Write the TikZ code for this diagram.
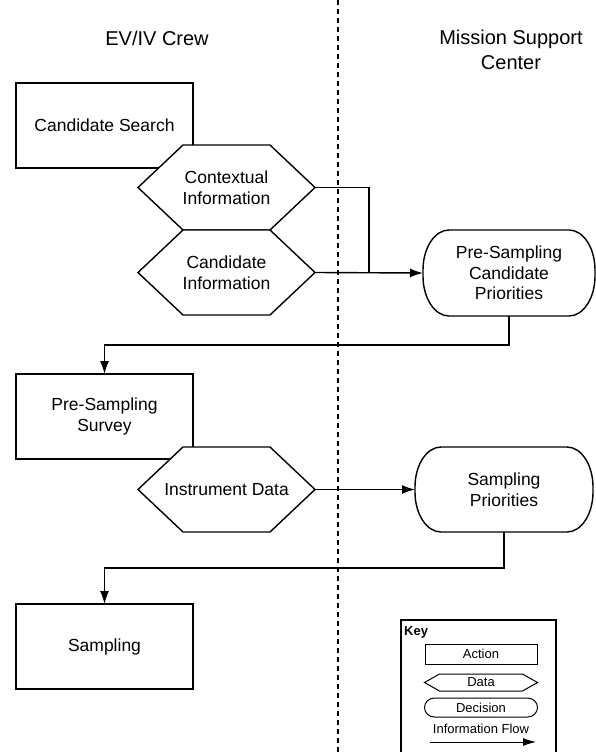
\documentclass[tikz,border=0pt]{standalone}
\usepackage{fontspec}
\setmainfont{Liberation Sans}
\usepackage{tikz}
\usetikzlibrary{positioning,calc}
\usetikzlibrary{arrows.meta}

\makeatletter
% hexagon for data items
\pgfkeys{/pgf/hex inset/.initial=45pt}
\pgfdeclareshape{datahex}{%
  \inheritsavedanchors[from=rectangle]
  \inheritanchorborder[from=rectangle]
  \inheritanchor[from=rectangle]{center}
  \inheritanchor[from=rectangle]{north}
  \inheritanchor[from=rectangle]{south}
  \inheritanchor[from=rectangle]{east}
  \inheritanchor[from=rectangle]{west}
  \inheritanchor[from=rectangle]{north east}
  \inheritanchor[from=rectangle]{north west}
  \inheritanchor[from=rectangle]{south east}
  \inheritanchor[from=rectangle]{south west}
  \backgroundpath{%
    \southwest \edef\hx@l{\the\pgf@x}\edef\hx@b{\the\pgf@y}%
    \northeast \edef\hx@r{\the\pgf@x}\edef\hx@t{\the\pgf@y}%
    \pgf@xc=\pgfkeysvalueof{/pgf/hex inset}\relax
    \pgf@xa=\hx@l\relax \advance\pgf@xa by\pgf@xc
    \pgf@xb=\hx@r\relax \advance\pgf@xb by-\pgf@xc
    \edef\hx@li{\the\pgf@xa}\edef\hx@ri{\the\pgf@xb}%
    \pgf@ya=\hx@b\relax \advance\pgf@ya by\hx@t\relax \divide\pgf@ya by 2
    \edef\hx@m{\the\pgf@ya}%
    \pgfpathmoveto{\pgfqpoint{\hx@l}{\hx@m}}%
    \pgfpathlineto{\pgfqpoint{\hx@li}{\hx@t}}%
    \pgfpathlineto{\pgfqpoint{\hx@ri}{\hx@t}}%
    \pgfpathlineto{\pgfqpoint{\hx@r}{\hx@m}}%
    \pgfpathlineto{\pgfqpoint{\hx@ri}{\hx@b}}%
    \pgfpathlineto{\pgfqpoint{\hx@li}{\hx@b}}%
    \pgfpathclose
  }%
}
% box with elliptic corners for decisions
\pgfkeys{/pgf/decision rx/.initial=26pt, /pgf/decision ry/.initial=40pt}
\def\dc@arc#1#2{\edef\dc@tmp{\noexpand\pgfpatharc{#1}{#2}{\dc@rx\space and \dc@ry}}\dc@tmp}
\pgfdeclareshape{decisionbox}{%
  \inheritsavedanchors[from=rectangle]
  \inheritanchorborder[from=rectangle]
  \inheritanchor[from=rectangle]{center}
  \inheritanchor[from=rectangle]{north}
  \inheritanchor[from=rectangle]{south}
  \inheritanchor[from=rectangle]{east}
  \inheritanchor[from=rectangle]{west}
  \inheritanchor[from=rectangle]{north east}
  \inheritanchor[from=rectangle]{north west}
  \inheritanchor[from=rectangle]{south east}
  \inheritanchor[from=rectangle]{south west}
  \backgroundpath{%
    \southwest \edef\dc@l{\the\pgf@x}\edef\dc@b{\the\pgf@y}%
    \northeast \edef\dc@r{\the\pgf@x}\edef\dc@t{\the\pgf@y}%
    \edef\dc@rx{\pgfkeysvalueof{/pgf/decision rx}}%
    \edef\dc@ry{\pgfkeysvalueof{/pgf/decision ry}}%
    \pgf@xa=\dc@l\relax \advance\pgf@xa by\dc@rx\relax \edef\dc@li{\the\pgf@xa}%
    \pgf@xb=\dc@r\relax \advance\pgf@xb by-\dc@rx\relax \edef\dc@ri{\the\pgf@xb}%
    \pgf@ya=\dc@b\relax \advance\pgf@ya by\dc@ry\relax \edef\dc@bi{\the\pgf@ya}%
    \pgf@yb=\dc@t\relax \advance\pgf@yb by-\dc@ry\relax \edef\dc@ti{\the\pgf@yb}%
    \pgfpathmoveto{\pgfqpoint{\dc@li}{\dc@t}}%
    \pgfpathlineto{\pgfqpoint{\dc@ri}{\dc@t}}%
    \dc@arc{90}{0}%
    \pgfpathlineto{\pgfqpoint{\dc@r}{\dc@bi}}%
    \dc@arc{0}{-90}%
    \pgfpathlineto{\pgfqpoint{\dc@li}{\dc@b}}%
    \dc@arc{270}{180}%
    \pgfpathlineto{\pgfqpoint{\dc@l}{\dc@ti}}%
    \dc@arc{180}{90}%
    \pgfpathclose
  }%
}
\makeatother

\newcommand{\boxfont}{\fontsize{17.5pt}{20.5pt}\selectfont}
\newcommand{\lanefont}{\fontsize{20pt}{25pt}\selectfont}
\newcommand{\keyfont}{\fontsize{13pt}{15pt}\selectfont}
\tikzstyle{flow} = [line width=1.4pt,-{Latex[length=13pt,width=9pt]}]
\tikzstyle{link} = [line width=1.4pt]

\begin{document}
\begin{tikzpicture}[x={(1pt,0pt)}, y={(0pt,-1pt)},
  actionbox/.style={shape=rectangle, draw, line width=1.4pt, fill=white, minimum width=177pt, minimum height=85pt, inner sep=0pt, outer sep=0pt, align=center, font=\boxfont},
  databox/.style={shape=datahex, /pgf/hex inset=45pt, draw, line width=1.4pt, fill=white, minimum width=177pt, minimum height=85pt, inner sep=0pt, outer sep=0pt, align=center, font=\boxfont},
  decisionnode/.style={shape=decisionbox, draw, line width=1.4pt, fill=white, minimum width=172pt, minimum height=86pt, inner sep=0pt, outer sep=0pt, align=center, font=\boxfont},
  lane/.style={align=center, font=\lanefont}]

	\useasboundingbox (0,0) rectangle (596,752);
	\clip (0,0) rectangle (596,752);

	% LANES
	\node[lane] (crew) at (157,38) {EV/IV Crew};
	\node[lane] (support) at (511,50) {Mission Support\\Center};
	\draw[line width=1.2pt, dash pattern=on 5pt off 4pt] (338,0) -- (338,752);

	% STEPS
	\node[actionbox] (search) at (104.5,125.5) {Candidate Search};
	\node[databox] (context) at (226.5,187.5) {Contextual\\Information};
	\node[databox] (candinfo) at (226.5,272.5) {Candidate\\Information};
	\node[decisionnode] (preprio) at (509,273) {Pre-Sampling\\Candidate\\Priorities};

	\node[actionbox] (survey) at (104.5,416.5) {Pre-Sampling\\Survey};
	\node[databox] (instr) at (226.5,489.5) {Instrument Data};
	\node[decisionnode, minimum width=178pt, minimum height=85pt] (sampprio) at (504,489.5) {Sampling\\Priorities};

	\node[actionbox] (sampling) at (104.5,646.5) {Sampling};

	% FLOWS
	\coordinate (merge) at ($(candinfo.east)!0.5!(preprio.west)$);
	\draw[link] (context.east) -| (merge);
	\draw[flow] (candinfo.east) -- (preprio.west);
	\draw[flow] (preprio.south) -- ++(0,29) -| (survey.north);
	\draw[flow] (instr.east) -- (sampprio.west);
	\draw[flow] (sampprio.south) -- ++(0,36) -| (sampling.north);

	% KEY
	\node[draw, line width=1.3pt, minimum width=155pt, minimum height=150pt, inner sep=0pt, outer sep=0pt, anchor=north west] (key) at (401,620) {};
	\node[anchor=north west, inner sep=0pt, font=\keyfont\bfseries] (keytitle) at (404,626) {Key};
	\node[actionbox, line width=1pt, minimum width=112pt, minimum height=20pt, font=\keyfont] (keyaction) at (481,654) {Action};
	\node[databox, /pgf/hex inset=15pt, line width=1pt, minimum width=113pt, minimum height=17pt, font=\keyfont, below=10pt of keyaction] (keydata) {Data};
	\node[decisionnode, /pgf/decision rx=10pt, /pgf/decision ry=9.5pt, line width=1pt, minimum width=113pt, minimum height=19pt, font=\keyfont, below=7pt of keydata] (keydecision) {Decision};
	\node[inner sep=0pt, font=\keyfont, below=7pt of keydecision] (keyflow) {Information Flow};
	\coordinate (flowstart) at (430,742);
	\coordinate (flowend) at (536,742);
	\draw[line width=1pt, -{Latex[length=13pt,width=8pt]}] (flowstart) -- (flowend);

\end{tikzpicture}
\end{document}
